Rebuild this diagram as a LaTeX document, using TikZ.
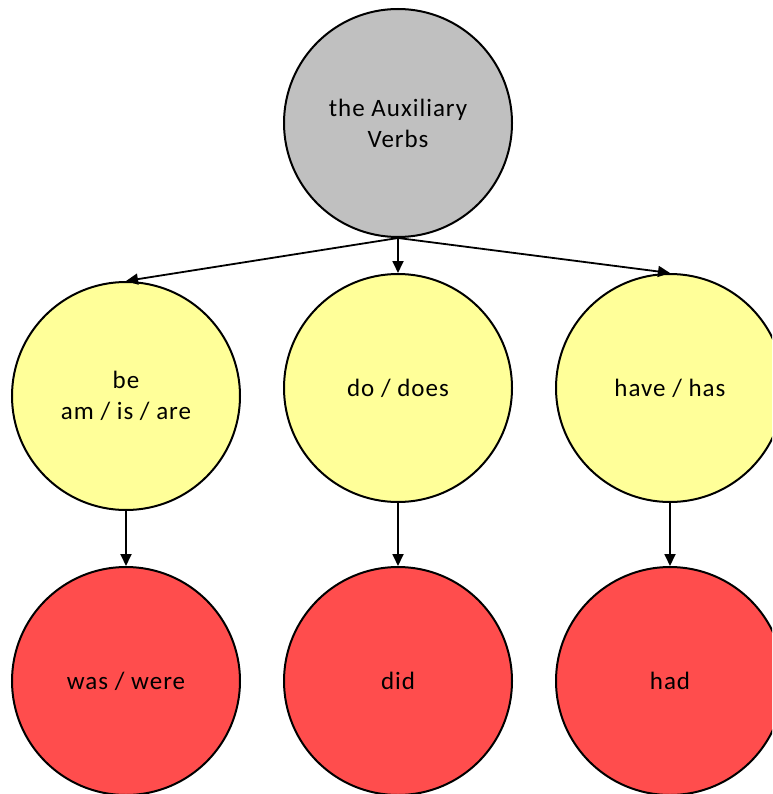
\documentclass[tikz,border=0pt]{standalone}
\usepackage{fontspec}
\setmainfont[LetterSpace=4]{Carlito}
\usetikzlibrary{arrows.meta}
\definecolor{rootfill}{RGB}{192,192,192}
\definecolor{presentfill}{RGB}{255,255,153}
\definecolor{pastfill}{RGB}{255,77,77}
\begin{document}
\begin{tikzpicture}[x=1pt,y=-1pt,
  verb/.style={circle,draw=black,line width=2pt,minimum size=228pt,inner sep=0pt,
    align=center,font=\fontsize{25}{31}\selectfont},
  rootverb/.style={verb,fill=rootfill},
  present/.style={verb,fill=presentfill},
  past/.style={verb,fill=pastfill},
  link/.style={line width=1.8pt,-{Triangle[length=12pt,width=11pt]}}]
\useasboundingbox (0,0) rectangle (772,794);
\clip (0,0) rectangle (772,794);
\node[rootverb] (root) at (398,123) {the Auxiliary\\Verbs};
\node[present] (be) at (126,396) {be\\am / is / are};
\node[present] (do) at (398,388) {do / does};
\node[present] (have) at (670,388) {have / has};
\node[past] (was) at (126,681) {was / were};
\node[past] (did) at (398,681) {did};
\node[past] (had) at (670,681) {had};
\draw[link] (root.south) -- (be.north);
\draw[link] (root.south) -- (do.north);
\draw[link] (root.south) -- (have.north);
\draw[link] (be.south) -- (was.north);
\draw[link] (do.south) -- (did.north);
\draw[link] (have.south) -- (had.north);
\end{tikzpicture}
\end{document}
